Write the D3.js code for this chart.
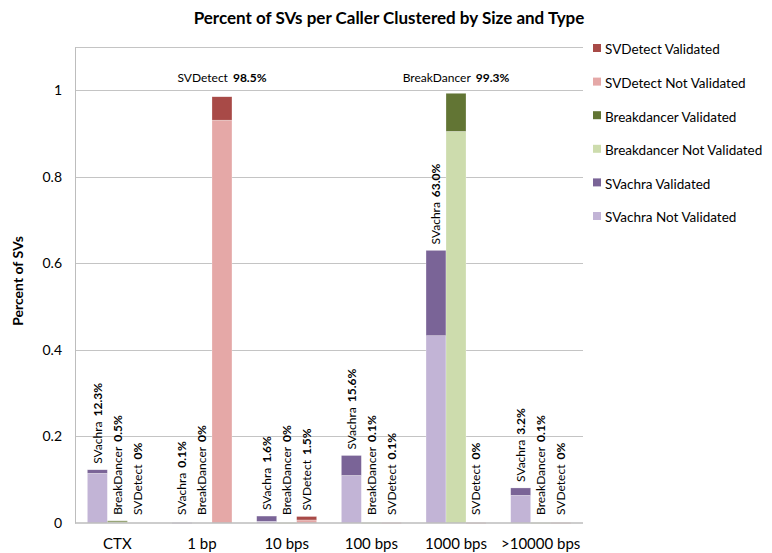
<!DOCTYPE html>
<html>
<head>
<meta charset="utf-8">
<script src="https://cdn.jsdelivr.net/npm/d3@7"></script>
<style>
  body { margin: 0; background: #fff; }
  svg text { font-family: Lato, "Open Sans", sans-serif; fill: #000; }
</style>
</head>
<body>
<div id="chart"></div>
<script>
// size groups and callers
const categories = ["CTX", "1 bp", "10 bps", "100 bps", "1000 bps", ">10000 bps"];
const callers = ["SVachra", "BreakDancer", "SVDetect"];

// fraction of SVs, per size group
const svachraNotValidated = [0.115, 0.001, 0.004, 0.110, 0.433, 0.064];
const svachraValidated    = [0.008, 0.000, 0.012, 0.046, 0.197, 0.017];
const bdNotValidated      = [0.004, 0.000, 0.001, 0.001, 0.905, 0.001];
const bdValidated         = [0.001, 0.000, 0.000, 0.000, 0.088, 0.000];
const sdNotValidated      = [0.000, 0.931, 0.007, 0.001, 0.001, 0.001];
const sdValidated         = [0.000, 0.054, 0.008, 0.000, 0.000, 0.000];

// printed labels
const svachraLabels = ["12.3%", "0.1%", "1.6%", "15.6%", "63.0%", "3.2%"];
const bdLabels      = ["0.5%", "0%", "0%", "0.1%", "99.3%", "0.1%"];
const sdLabels      = ["0%", "98.5%", "1.5%", "0.1%", "0%", "0%"];

const yTicks = [0, 0.2, 0.4, 0.6, 0.8, 1];

const legendItems = [
    {name: "SVDetect Validated", color: "#a84a47"},
    {name: "SVDetect Not Validated", color: "#e5a8a7"},
    {name: "Breakdancer Validated", color: "#627534"},
    {name: "Breakdancer Not Validated", color: "#cddcad"},
    {name: "SVachra Validated", color: "#7a6497"},
    {name: "SVachra Not Validated", color: "#c2b4d6"}
];

const series = {
    "SVachra":     {nv: svachraNotValidated, v: svachraValidated, labels: svachraLabels, nvColor: "#c2b4d6", vColor: "#7a6497"},
    "BreakDancer": {nv: bdNotValidated, v: bdValidated, labels: bdLabels, nvColor: "#cddcad", vColor: "#627534"},
    "SVDetect":    {nv: sdNotValidated, v: sdValidated, labels: sdLabels, nvColor: "#e5a8a7", vColor: "#a84a47"}
};

const W = 772, H = 553;
const margin = {top: 47, right: 189, bottom: 30, left: 75};
const width = W - margin.left - margin.right;
const height = H - margin.top - margin.bottom;

const svg = d3.select("#chart").append("svg")
    .attr("width", W)
    .attr("height", H);

const g = svg.append("g")
    .attr("transform", "translate(" + margin.left + "," + margin.top + ")");

const x = d3.scaleBand().domain(categories).range([0, width]).paddingInner(0).paddingOuter(0);
const xIn = d3.scaleBand().domain(callers).range([x.bandwidth() * 0.146, x.bandwidth() * 0.854]);
const y = d3.scaleLinear().domain([0, 1.1]).range([height, 0]);

// gridlines (plus top frame at 1.1)
g.selectAll(".grid")
    .data(yTicks.filter(t => t > 0).concat([1.1]))
    .enter().append("line")
    .attr("x1", 0).attr("x2", width)
    .attr("y1", d => Math.round(y(d)) + 0.5).attr("y2", d => Math.round(y(d)) + 0.5)
    .attr("stroke", "#c4c4c4").attr("stroke-width", 1);

// y axis
const yAxis = d3.axisLeft(y).tickValues(yTicks).tickSize(0).tickPadding(13)
    .tickFormat(d => d === 0 || d === 1 ? d3.format("d")(d) : d3.format(".1f")(d));
const ya = g.append("g").call(yAxis);
ya.select(".domain").attr("stroke", "#bdbdbd");
ya.selectAll("text").style("font-size", "14px");

// stacked bars
const rows = [];
categories.forEach((c, i) => {
    callers.forEach(k => {
        const s = series[k];
        rows.push({cat: c, caller: k, y0: 0, y1: s.nv[i], color: s.nvColor});
        rows.push({cat: c, caller: k, y0: s.nv[i], y1: s.nv[i] + s.v[i], color: s.vColor});
    });
});

g.selectAll(".bar")
    .data(rows.filter(d => d.y1 > d.y0))
    .enter().append("rect")
    .attr("class", "bar")
    .attr("x", d => x(d.cat) + xIn(d.caller))
    .attr("width", xIn.bandwidth())
    .attr("y", d => y(d.y1))
    .attr("height", d => Math.max(1, y(d.y0) - y(d.y1)))
    .attr("fill", d => d.color)
    .attr("stroke", "#ffffff").attr("stroke-opacity", 0.5).attr("stroke-width", 0.5);

// baseline
g.append("line")
    .attr("x1", 0).attr("x2", width)
    .attr("y1", y(0)).attr("y2", y(0))
    .attr("stroke", "#bdbdbd").attr("stroke-width", 1.5);

// value labels
categories.forEach((c, i) => {
    callers.forEach(k => {
        const s = series[k];
        const total = s.nv[i] + s.v[i];
        const cx = x(c) + xIn(k) + xIn.bandwidth() / 2;
        let t;
        if (total > 0.9) {
            t = g.append("text")
                .attr("x", cx).attr("y", y(1) - 8)
                .attr("text-anchor", "middle");
        } else {
            const top = Math.min(y(total), y(0) - 2) - 6;
            t = g.append("text")
                .attr("transform", "translate(" + cx + "," + top + ") rotate(-90)")
                .attr("dy", "0.36em");
        }
        t.style("font-size", "12px");
        t.append("tspan").text(k);
        t.append("tspan").attr("dx", 5).style("font-weight", "bold").text(s.labels[i]);
    });
});

// x axis labels
const xAxis = d3.axisBottom(x).tickSize(0).tickPadding(15);
const xa = g.append("g").attr("transform", "translate(0," + height + ")").call(xAxis);
xa.select(".domain").remove();
xa.selectAll("text").style("font-size", "15px");

// axis title
svg.append("text")
    .attr("transform", "translate(23," + (margin.top + height / 2 - 4) + ") rotate(-90)")
    .attr("text-anchor", "middle")
    .style("font-size", "14px").style("font-weight", "bold")
    .text("Percent of SVs");

// chart title
svg.append("text")
    .attr("x", 389).attr("y", 24)
    .attr("text-anchor", "middle")
    .style("font-size", "17px").style("font-weight", "bold")
    .text("Percent of SVs per Caller Clustered by Size and Type");

// legend
const legend = svg.append("g").attr("transform", "translate(593,50)");
const li = legend.selectAll(".li")
    .data(legendItems)
    .enter().append("g")
    .attr("transform", (d, i) => "translate(0," + i * 33.6 + ")");
li.append("rect").attr("x", 0).attr("y", -6).attr("width", 8).attr("height", 8).attr("fill", d => d.color);
li.append("text").attr("x", 12).attr("y", 0).attr("dy", "0.32em")
    .style("font-size", "13.5px").text(d => d.name);
</script>
</body>
</html>
